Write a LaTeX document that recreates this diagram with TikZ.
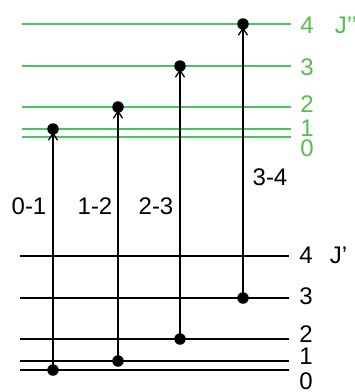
\documentclass[tikz,border=0pt]{standalone}
\usepackage{fontspec}
\setmainfont{Liberation Sans}
\usetikzlibrary{arrows.meta,positioning}
\definecolor{grn}{RGB}{72,196,96}
\definecolor{grntxt}{RGB}{84,190,78}
\tikzset{
  every picture/.style={line width=1.9pt, line cap=butt},
  every node/.style={font=\fontsize{24}{28}\selectfont, inner sep=0pt},
  % Niveaus
  upper/.style={grn},
  lower/.style={black},
  % Uebergaenge
  trans/.style={black, line width=1.7pt, shorten >=3pt, -{Straight Barb[length=7pt,width=9pt,line width=1.3pt]}},
  dot/.style={circle, fill=black, inner sep=0pt, minimum size=11.5pt},
}
\begin{document}
\begin{tikzpicture}[x=1pt, y=-1pt]
  \useasboundingbox (0,0) rectangle (355,392);
  % obere Niveaus J''
  \foreach \J/\y/\ly in {0/137/148, 1/129/128, 2/107/104, 3/66/67, 4/24/25} {
    \draw[upper] (22,\y) coordinate (us\J) -- (291,\y) coordinate (ue\J);
    \node[text=grntxt] (nu\J) at (307,\ly) {\J};
  }
  \node[text=grntxt, anchor=west] (ju) at (334,25) {J’’};
  % untere Niveaus J'
  \foreach \J/\y/\ly in {0/370/381, 1/361/356, 2/339/334, 3/298/296, 4/256/255} {
    \draw[lower] (20,\y) coordinate (ls\J) -- (289,\y) coordinate (le\J);
    \node (nl\J) at (306,\ly) {\J};
  }
  \node[anchor=west] (jl) at (329,255) {J’};
  % Uebergaenge J -> J+1
  \foreach \J/\K/\x in {0/1/53, 1/2/118, 2/3/180, 3/4/243} {
    \coordinate (a\J) at (ls\J -| \x,0);
    \coordinate (b\K) at (us\K -| \x,0);
    \draw[trans] (a\J) -- (b\K);
    \node[dot] (pa\J) at (a\J) {};
    \node[dot] (pb\K) at (b\K) {};
  }
  % Beschriftung
  \node (t01) at (29,206) {0-1};
  \node (t12) at (95,206) {1-2};
  \node (t23) at (156,206) {2-3};
  \node (t34) at (270,177) {3-4};
\end{tikzpicture}
\end{document}
